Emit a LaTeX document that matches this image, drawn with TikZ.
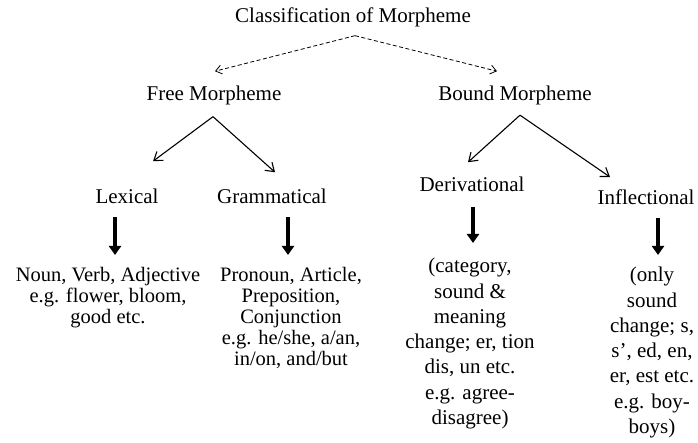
\documentclass[tikz,border=0pt]{standalone}
\usepackage{fontspec}
\setmainfont{Liberation Serif}
\usetikzlibrary{arrows.meta,calc}
\begin{document}
\begin{tikzpicture}[x=1pt,y=-1pt,
  lbl/.style={inner sep=0pt, font=\fontsize{21}{21}\selectfont, anchor=base},
  blockL/.style={inner sep=0pt, align=center, anchor=north, font=\fontsize{20.5}{21}\selectfont},
  blockR/.style={inner sep=0pt, align=center, anchor=north, font=\fontsize{21}{25.3}\selectfont},
  dsh/.style={line width=0.8pt, dash pattern=on 4pt off 2.5pt, -{Straight Barb[length=6pt,width=9pt]}},
  conn/.style={line width=1.1pt, -{Straight Barb[length=8pt,width=11pt]}},
  thk/.style={line width=4pt, -{Triangle[length=9pt,width=12pt]}}
]
\useasboundingbox (0,0) rectangle (698,443);

\node[lbl] (title) at (353,23) {Classification of Morpheme};
\node[lbl] (free) at (214,101) {Free Morpheme};
\node[lbl] (bound) at (515,101) {Bound Morpheme};
\node[lbl] (lex) at (127,204) {Lexical};
\node[lbl] (gram) at (272,204) {Grammatical};
\node[lbl] (deriv) at (472,192) {Derivational};
\node[lbl] (infl) at (646,205) {Inflectional};

\node[blockL] (lexT) at (108,267) {Noun, Verb, Adjective\\e.g. flower, bloom,\\good etc.};
\node[blockL] (gramT) at (291,267) {Pronoun, Article,\\Preposition,\\Conjunction\\e.g. he/she, a/an,\\in/on, and/but};
\node[blockR] (derivT) at (470,258) {(category,\\sound \&\\meaning\\change; er, tion\\dis, un etc.\\e.g. agree-\\disagree)};
\node[blockR] (inflT) at (652,267) {(only\\sound\\change; s,\\s', ed, en,\\er, est etc.\\e.g. boy-\\boys)};

\coordinate (tap) at ($(title.south)+(2,8)$);
\draw[dsh] (tap) -- ($(free.north)+(1,-15)$);
\draw[dsh] (tap) -- ($(bound.north)+(-18,-15)$);

\coordinate (fap) at ($(free.south)+(-1,11)$);
\draw[conn] (fap) -- ($(lex.north)+(26,-28)$);
\draw[conn] (fap) -- ($(gram.north)+(3,-17)$);

\coordinate (bap) at ($(bound.south)+(5,9.5)$);
\draw[conn] (bap) -- ($(deriv.north)+(-4,-15)$);
\draw[conn] (bap) -- ($(infl.north)+(-36,-13)$);

\draw[thk] ($(lex.south)+(-12,13)$) -- ($(lexT.north)+(7,-12)$);
\draw[thk] ($(gram.south)+(16,13)$) -- ($(gramT.north)+(-3,-12)$);
\draw[thk] ($(deriv.south)+(1,15)$) -- ($(derivT.north)+(3,-15)$);
\draw[thk] ($(infl.south)+(12,13)$) -- ($(inflT.north)+(6,-12)$);
\end{tikzpicture}
\end{document}
